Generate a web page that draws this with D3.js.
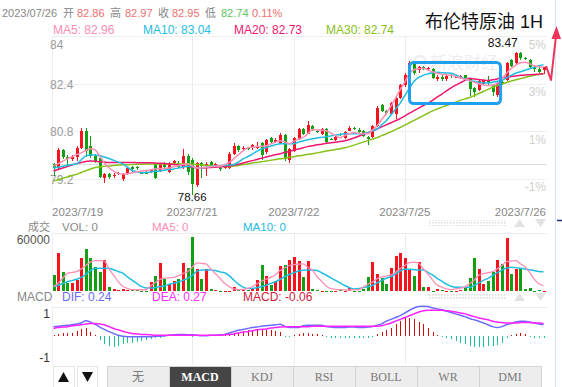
<!DOCTYPE html>
<html>
<head>
<meta charset="utf-8">
<script src="https://cdn.jsdelivr.net/npm/d3@7"></script>
<style>
  body { margin: 0; background: #fff; }
  svg { display: block; }
</style>
</head>
<body>
<svg id="chart" width="562" height="387"></svg>
<script>
// hourly bars
const opens = [79.71,79.58,80.18,79.95,79.88,79.93,80.25,80.82,80.30,79.98,
  79.90,79.24,79.37,79.30,79.38,79.20,79.37,79.60,79.62,79.42,
  79.42,79.45,79.71,79.47,79.74,79.44,79.74,79.74,79.60,79.98,
  79.85,79.00,79.74,79.64,79.76,79.64,79.58,79.58,79.57,80.05,
  80.32,80.22,80.25,80.28,80.25,80.42,80.10,80.59,80.45,80.42,
  80.69,79.84,80.15,80.55,80.89,80.72,80.99,80.82,80.72,80.89,
  80.55,80.52,80.72,80.59,80.82,80.93,80.86,80.82,80.62,80.62,
  80.99,81.67,81.48,81.40,81.40,81.91,82.34,82.68,83.09,82.85,
  82.95,82.90,82.90,82.55,82.62,82.55,82.68,82.62,82.58,82.68,
  82.58,82.24,82.20,82.40,82.51,82.34,82.01,82.45,82.51,83.19,
  83.09,83.43,83.26,83.19,82.95,82.90,82.86];
const highs = [79.74,80.25,80.22,80.02,80.00,80.30,80.90,80.90,80.65,80.05,
  80.00,79.40,79.40,79.40,79.45,79.40,79.60,79.65,79.65,79.45,
  79.46,79.52,79.75,79.75,79.78,79.78,79.84,79.80,80.20,80.05,
  79.90,79.78,79.76,79.76,79.80,79.74,79.62,79.63,80.10,80.40,
  80.35,80.30,80.28,80.38,80.45,80.45,80.55,80.62,80.58,80.75,
  80.72,80.25,80.62,80.92,80.92,81.15,81.02,80.86,80.93,80.93,
  80.58,80.65,80.75,80.82,80.97,80.96,80.90,80.85,80.65,81.03,
  81.65,81.72,81.52,81.80,81.95,82.40,82.75,83.15,83.12,83.00,
  83.00,82.96,82.92,82.70,82.70,82.72,82.72,82.66,82.70,82.70,
  82.60,82.28,82.52,82.55,82.65,82.38,82.45,82.50,83.12,83.22,
  83.47,83.45,83.30,83.22,83.00,82.95,82.97];
const lows = [79.30,79.55,79.88,79.65,79.80,79.80,80.20,79.95,79.90,79.75,
  79.25,79.07,79.22,79.25,79.35,79.15,79.35,79.45,79.50,79.38,
  79.38,79.40,79.20,79.45,79.50,79.40,79.70,79.58,79.55,79.35,
  78.66,78.95,79.24,79.30,79.60,79.60,79.48,79.55,79.55,80.00,
  80.10,80.18,80.18,80.18,80.20,79.85,80.05,80.40,80.42,80.40,
  79.82,79.75,80.10,80.50,80.68,80.70,80.80,80.76,80.68,80.40,
  80.50,80.48,80.66,80.55,80.80,80.86,80.75,80.60,80.35,80.58,
  80.95,81.45,81.35,81.38,81.23,81.88,82.30,82.60,82.70,82.75,
  82.85,82.86,82.55,82.50,82.50,82.50,82.60,82.58,82.55,82.52,
  82.00,81.95,82.15,82.35,82.35,82.00,81.95,82.36,82.48,82.95,
  83.05,83.20,83.18,82.90,82.80,82.75,82.74];
const closes = [79.58,80.18,79.95,79.88,79.93,80.25,80.82,80.15,79.98,79.81,
  79.27,79.37,79.27,79.34,79.42,79.37,79.57,79.55,79.58,79.40,
  79.40,79.50,79.24,79.71,79.60,79.71,79.81,79.62,79.98,79.45,
  79.03,79.74,79.64,79.72,79.66,79.71,79.56,79.60,80.05,80.32,
  80.18,80.25,80.22,80.34,80.32,80.00,80.52,80.45,80.50,80.69,
  79.88,80.22,80.59,80.89,80.72,81.03,80.85,80.79,80.89,80.45,
  80.52,80.62,80.69,80.79,80.93,80.89,80.79,80.65,80.55,80.99,
  81.60,81.50,81.42,81.74,81.91,82.34,82.68,83.09,82.75,82.95,
  82.90,82.92,82.58,82.62,82.55,82.65,82.65,82.62,82.65,82.58,
  82.22,82.11,82.48,82.52,82.41,82.11,82.41,82.40,83.09,82.98,
  83.43,83.26,83.22,82.95,82.88,82.80,82.95];

const ma5 = [79.64,79.72,79.80,79.88,79.95,80.02,80.08,80.16,80.22,80.18,
  79.98,79.74,79.58,79.47,79.40,79.37,79.38,79.41,79.44,79.47,
  79.49,79.51,79.54,79.55,79.56,79.57,79.61,79.65,79.69,79.71,
  79.64,79.57,79.58,79.60,79.62,79.63,79.64,79.68,79.76,79.88,
  80.02,80.15,80.25,80.27,80.29,80.30,80.32,80.38,80.44,80.49,
  80.45,80.39,80.47,80.54,80.59,80.72,80.86,80.85,80.84,80.82,
  80.74,80.66,80.59,80.66,80.72,80.76,80.74,80.73,80.72,80.85,
  80.99,81.20,81.40,81.65,81.92,82.20,82.45,82.75,82.87,82.90,
  82.92,82.86,82.80,82.75,82.72,82.70,82.68,82.64,82.60,82.55,
  82.51,82.45,82.40,82.36,82.34,82.36,82.40,82.55,82.75,82.90,
  83.02,83.10,83.12,83.07,83.00,82.97,82.96];
const ma10 = [79.57,79.60,79.63,79.66,79.69,79.71,79.85,79.98,80.01,80.01,
  79.98,79.94,79.89,79.83,79.77,79.71,79.60,79.49,79.45,79.41,
  79.42,79.44,79.46,79.47,79.50,79.52,79.54,79.57,79.60,79.63,
  79.62,79.58,79.58,79.60,79.62,79.63,79.65,79.66,79.67,79.69,
  79.77,79.88,79.95,80.04,80.13,80.21,80.26,80.31,80.35,80.39,
  80.39,80.39,80.39,80.44,80.48,80.52,80.55,80.58,80.60,80.62,
  80.65,80.67,80.70,80.72,80.72,80.72,80.72,80.72,80.76,80.82,
  80.88,81.02,81.16,81.35,81.55,81.75,82.00,82.25,82.48,82.61,
  82.68,82.73,82.77,82.78,82.77,82.76,82.75,82.69,82.63,82.56,
  82.51,82.48,82.45,82.42,82.42,82.45,82.48,82.51,82.60,82.68,
  82.75,82.80,82.85,82.90,82.95,83.00,83.04];
const ma20 = [79.47,79.52,79.57,79.62,79.67,79.72,79.76,79.79,79.81,79.80,
  79.78,79.77,79.76,79.76,79.76,79.76,79.76,79.76,79.75,79.75,
  79.75,79.75,79.74,79.73,79.72,79.71,79.69,79.67,79.65,79.62,
  79.60,79.58,79.57,79.58,79.59,79.60,79.61,79.62,79.64,79.67,
  79.70,79.74,79.78,79.82,79.86,79.90,79.94,79.98,80.02,80.05,
  80.09,80.13,80.17,80.21,80.25,80.29,80.32,80.35,80.37,80.40,
  80.42,80.44,80.46,80.49,80.53,80.58,80.64,80.70,80.76,80.82,
  80.88,80.95,81.02,81.09,81.16,81.23,81.32,81.41,81.50,81.58,
  81.67,81.75,81.84,81.95,82.05,82.16,82.26,82.35,82.43,82.51,
  82.58,82.56,82.54,82.52,82.51,82.53,82.56,82.60,82.62,82.64,
  82.66,82.68,82.69,82.70,82.71,82.72,82.73];
const ma30 = [79.14,79.18,79.23,79.27,79.32,79.36,79.42,79.48,79.54,79.59,
  79.61,79.63,79.64,79.66,79.67,79.68,79.68,79.69,79.70,79.70,
  79.71,79.71,79.71,79.71,79.71,79.71,79.71,79.71,79.71,79.71,
  79.70,79.69,79.67,79.66,79.65,79.64,79.63,79.62,79.62,79.64,
  79.66,79.69,79.71,79.74,79.76,79.78,79.81,79.83,79.86,79.88,
  79.90,79.93,79.95,79.98,80.00,80.03,80.05,80.08,80.11,80.14,
  80.17,80.19,80.22,80.25,80.29,80.34,80.39,80.44,80.49,80.54,
  80.59,80.66,80.72,80.79,80.86,80.93,81.01,81.09,81.17,81.25,
  81.33,81.41,81.49,81.55,81.61,81.67,81.72,81.78,81.84,81.89,
  81.94,82.00,82.07,82.14,82.21,82.28,82.34,82.39,82.44,82.49,
  82.53,82.57,82.61,82.65,82.68,82.71,82.74];

const volumes = [18800,45000,22700,9800,9400,12900,38800,49400,38800,28200,
  22700,36500,5000,2400,1000,2400,1500,800,600,500,
  500,10600,17600,32900,14100,8200,12100,14100,33300,27400,
  63200,25900,14100,25900,2400,1500,500,500,500,4700,
  1200,600,600,1800,12900,30600,17600,7000,11800,30000,
  30600,37000,40400,35000,16100,35700,2400,1200,400,500,
  300,400,2400,400,3900,400,400,2400,16100,34500,
  20000,15700,8200,26700,41500,45100,39200,24700,17600,34500,
  4300,4300,400,2400,1200,500,500,500,600,4300,
  15700,39200,25900,8200,12200,22000,36500,31800,62700,20000,
  25900,25900,2400,3900,500,1200,400];
const volMa5 = [5000,9000,15000,20800,21800,22700,26000,30000,34000,35700,
  35700,35200,26000,18800,11000,5500,3000,1600,1500,1500,
  1500,6000,10000,13500,15000,15500,16000,18000,20500,22700,
  28000,33000,32500,32000,26000,20500,15000,9000,5200,2500,
  1500,1800,3000,5000,8500,11500,14000,16000,19000,24000,
  27000,30000,31000,31500,31800,28000,24700,17000,11500,6000,
  2800,2000,1500,1300,1200,1300,1500,4500,8000,10500,
  14500,16500,17500,19000,22000,26500,30000,33500,34000,32500,
  26000,20000,13000,7000,4500,2500,1600,2500,3500,4800,
  8500,13000,18500,20500,21500,22700,26000,30000,34500,35200,
  35700,32000,28500,22000,14000,8500,6300];
const volMa10 = [5000,6800,8800,10900,12200,13800,16000,19500,24000,26700,
  26700,26700,26700,25000,23000,21000,16500,12900,9000,5500,
  3500,3500,4200,5000,6000,7800,9000,10500,12500,14900,
  18500,23000,24700,24700,24700,24000,22500,21500,18000,12900,
  8000,4500,2800,3000,4000,5000,6800,9000,10900,13500,
  17000,19500,21500,23500,24500,24700,24700,24000,21500,18500,
  15500,12500,9500,6500,4000,2500,2800,4000,5000,6500,
  9500,12500,15000,17000,20000,23500,25500,25500,25000,24700,
  24700,22000,19000,14900,11500,8000,5500,4300,4300,4300,
  4300,6500,9500,12500,14900,18000,21500,24500,27000,27800,
  27500,26700,26000,25000,24000,23000,22700];

const dif = [0.20,0.21,0.22,0.23,0.24,0.26,0.28,0.33,0.30,0.25,
  0.19,0.14,0.09,0.05,0.01,-0.01,-0.02,-0.02,-0.02,-0.02,
  -0.02,-0.02,-0.01,-0.01,0.00,0.01,0.02,0.03,0.03,0.02,
  0.02,0.01,0.00,0.00,0.01,0.01,0.02,0.03,0.06,0.09,
  0.12,0.14,0.16,0.18,0.19,0.21,0.22,0.23,0.24,0.25,
  0.21,0.18,0.18,0.18,0.22,0.23,0.23,0.23,0.23,0.20,
  0.19,0.18,0.18,0.18,0.19,0.19,0.18,0.18,0.19,0.20,
  0.23,0.26,0.32,0.36,0.40,0.44,0.50,0.56,0.61,0.64,
  0.65,0.64,0.61,0.59,0.57,0.54,0.51,0.48,0.45,0.42,
  0.38,0.35,0.32,0.28,0.24,0.20,0.18,0.20,0.24,0.27,
  0.30,0.32,0.32,0.30,0.28,0.26,0.24];
const dea = [0.16,0.18,0.19,0.20,0.22,0.23,0.24,0.26,0.27,0.27,
  0.26,0.24,0.20,0.16,0.13,0.10,0.07,0.05,0.04,0.03,
  0.03,0.02,0.01,0.01,0.01,0.01,0.01,0.01,0.01,0.01,
  0.01,0.01,0.01,0.01,0.01,0.01,0.01,0.02,0.03,0.04,
  0.06,0.08,0.09,0.11,0.13,0.14,0.15,0.17,0.18,0.19,
  0.20,0.20,0.20,0.20,0.20,0.20,0.21,0.21,0.21,0.21,
  0.21,0.21,0.21,0.21,0.21,0.21,0.21,0.21,0.21,0.21,
  0.21,0.22,0.25,0.28,0.32,0.36,0.40,0.44,0.48,0.52,
  0.55,0.56,0.56,0.56,0.56,0.55,0.54,0.52,0.50,0.48,
  0.45,0.42,0.39,0.37,0.35,0.32,0.30,0.29,0.28,0.28,
  0.28,0.29,0.29,0.29,0.28,0.28,0.27];
const macdBars = [0.02,0.04,0.06,0.06,0.07,0.10,0.14,0.16,0.08,0.02,
  -0.09,-0.18,-0.22,-0.24,-0.22,-0.19,-0.17,-0.15,-0.13,-0.12,
  -0.10,-0.08,-0.06,-0.04,-0.02,-0.01,0.01,0.02,0.03,0.01,
  -0.02,-0.01,0.00,0.00,-0.01,0.00,0.00,0.01,0.02,0.04,
  0.07,0.10,0.12,0.13,0.13,0.13,0.13,0.12,0.11,0.09,
  -0.02,-0.02,0.02,0.04,0.05,0.06,0.04,0.03,0.01,-0.02,
  -0.04,-0.05,-0.04,-0.04,-0.04,-0.05,-0.06,-0.05,-0.04,-0.02,
  0.03,0.09,0.12,0.17,0.25,0.32,0.38,0.38,0.36,0.31,
  0.26,0.16,0.09,0.02,-0.02,-0.05,-0.08,-0.11,-0.15,-0.19,
  -0.22,-0.25,-0.25,-0.24,-0.23,-0.23,-0.20,-0.15,-0.06,0.01,
  0.04,0.05,0.04,-0.02,-0.05,-0.04,-0.06];

// axis / label values
const priceTicks = [84, 82.4, 80.8, 79.2];
const pctTicks = [5, 3, 1, -1];
const pctBase = 79.72;
const dateLabels = ['2023/7/19', '2023/7/21', '2023/7/22', '2023/7/25', '2023/7/26'];
const dateIndex = [0, 30, 52, 76, 106];
const volTicks = [60000];
const macdTickLabels = ['1', '-1'];
const tabNames = ['无', 'MACD', 'KDJ', 'RSI', 'BOLL', 'WR', 'DMI'];
const headerDate = '2023/07/26';
const changePct = 0.11;
const chartTitle = '布伦特原油 1H';

const SANS = '"Liberation Sans", Arial, "Noto Sans CJK SC", sans-serif';
const SERIF = '"Liberation Serif", "Times New Roman", "Noto Sans CJK SC", serif';
const UP = '#f5141e';
const DOWN = '#12a012';
const C_MA5 = '#ff8db4';
const C_MA10 = '#1ebde2';
const C_MA20 = '#f0166f';
const C_MA30 = '#86c11a';

const svg = d3.select('#chart');
const N = closes.length;
const L = 52, R = 547;

const x = d3.scaleLinear().domain([0, N - 1]).range([53.5, 543.5]);
const yPrice = d3.scaleLinear().domain([78.6, 84]).range([197, 36]);
const yVol = d3.scaleLinear().domain([0, 60000]).range([291, 240]);
const yMacd = d3.scaleLinear().domain([-0.62, 0.62]).range([364, 307.5]);

function addText (g, str, px, py, opts = {}) {
  return g.append('text')
    .attr('x', px).attr('y', py)
    .attr('font-family', opts.family || SANS)
    .attr('font-size', opts.size || 12)
    .attr('font-weight', opts.weight || 'normal')
    .attr('fill', opts.color || '#888')
    .attr('text-anchor', opts.anchor || 'start')
    .text(str);
}

function hline (g, y, x1, x2, color) {
  g.append('line').attr('x1', x1).attr('x2', x2)
    .attr('y1', Math.round(y) + 0.5).attr('y2', Math.round(y) + 0.5)
    .attr('stroke', color);
}

function vline (g, xx, y1, y2, color) {
  g.append('line').attr('x1', Math.round(xx) + 0.5).attr('x2', Math.round(xx) + 0.5)
    .attr('y1', y1).attr('y2', y2).attr('stroke', color);
}

drawGrid();
drawHeader();
drawCandles();
drawVolume();
drawMacd();
drawTabs();
drawMarks();

function drawGrid () {
  const g = svg.append('g').attr('shape-rendering', 'crispEdges');
  // price panel
  priceTicks.forEach(v => hline(g, yPrice(v), L, R, '#efefef'));
  hline(g, yPrice(pctBase), L, R, '#dddddd');
  // volume + macd panel tops
  hline(g, 233, L, R, '#ececec');
  hline(g, 307, L, R, '#ececec');
  const panels = [[36, 203], [233, 291], [307, 365]];
  panels.forEach(p => {
    vline(g, L, p[0], p[1], '#eeeeee');
    dateIndex.slice(1, -1).forEach(i => vline(g, x(i), p[0], p[1], '#ececec'));
  });

  // price labels
  priceTicks.forEach(v => {
    const py = Math.max(yPrice(v) + 5, 49);
    addText(g, String(v), 50, py, { color: '#9a9a9a' });
  });
  pctTicks.forEach(p => {
    addText(g, p + '%', 546, yPrice(pctBase * (1 + p / 100)) + 4, { color: '#cfcfcf', anchor: 'end' });
  });
  // dates
  dateLabels.forEach((lab, k) => {
    const last = k === dateLabels.length - 1;
    const anchor = k === 0 ? 'start' : (last ? 'end' : 'middle');
    const px = k === 0 ? L : (last ? 546 : x(dateIndex[k]));
    addText(g, lab, px, 215.5, { size: 11.5, color: '#888', anchor: anchor });
  });

  // watermark
  const wm = svg.append('g').attr('opacity', 0.07);
  wm.append('circle').attr('cx', 420).attr('cy', 62).attr('r', 6).attr('fill', 'none').attr('stroke', '#000').attr('stroke-width', 2);
  addText(wm, '新浪财经', 430, 69, { size: 17, color: '#000' });
}

function drawHeader () {
  const g = svg.append('g');
  const last = N - 1;
  const upRed = '#f06e6e';
  const parts = [
    [headerDate, 2, '#888'],
    ['开', 63, '#888'], [opens[last].toFixed(2), 77, upRed],
    ['高', 110, '#888'], [highs[last].toFixed(2), 125, upRed],
    ['收', 158, '#888'], [closes[last].toFixed(2), 172, upRed],
    ['低', 205, '#888'], [lows[last].toFixed(2), 221, '#5cc65c'],
    [changePct.toFixed(2) + '%', 252, upRed]
  ];
  parts.forEach(p => addText(g, p[0], p[1], 17, { size: 11, color: p[2] }));

  const maRow = [
    ['MA5', ma5, 53, C_MA5], ['MA10', ma10, 143, C_MA10],
    ['MA20', ma20, 234, C_MA20], ['MA30', ma30, 326, C_MA30]
  ];
  maRow.forEach(m => addText(g, `${m[0]}: ${m[1][last].toFixed(2)}`, m[2], 34, { color: m[3] }));

  addText(g, chartTitle, 543, 28, { size: 18, color: '#111', anchor: 'end' });

  // volume header
  addText(g, '成交', 28, 230.5, { size: 11, color: '#888' });
  addText(g, 'VOL: 0', 62, 230.5, { size: 11.5, color: '#888' });
  addText(g, 'MA5: 0', 152, 230.5, { size: 11.5, color: C_MA5 });
  addText(g, 'MA10: 0', 243, 230.5, { size: 11.5, color: C_MA10 });

  // macd header
  addText(g, 'MACD', 17, 301, { color: '#888' });
  addText(g, `DIF: ${dif[last].toFixed(2)}`, 62, 301, { color: '#6a6af5' });
  addText(g, `DEA: ${dea[last].toFixed(2)}`, 152, 301, { color: '#ff2eff' });
  addText(g, `MACD: ${macdBars[last].toFixed(2)}`, 243, 301, { color: '#cc1a3c' });

  // faint scroll controls on the two sub headers
  const defs = svg.append('defs');
  defs.append('pattern').attr('id', 'dots').attr('width', 3).attr('height', 3)
    .attr('patternUnits', 'userSpaceOnUse')
    .append('rect').attr('width', 1.6).attr('height', 1.6).attr('fill', '#dedede');
  [219, 293].forEach(ty => {
    g.append('rect').attr('x', 429).attr('y', ty + 1).attr('width', 78).attr('height', 6).attr('fill', 'url(#dots)');
    g.append('path').attr('d', `M514,${ty + 8}L519.5,${ty}L525,${ty + 8}Z`).attr('fill', '#e2e2e2');
    g.append('path').attr('d', `M535,${ty}L546,${ty}L540.5,${ty + 8}Z`).attr('fill', '#e2e2e2');
  });
}

function drawCandles () {
  const g = svg.append('g').attr('shape-rendering', 'crispEdges');
  const idx = d3.range(N);
  const col = i => closes[i] >= opens[i] ? UP : DOWN;

  g.selectAll('line.wick').data(idx).join('line')
    .attr('class', 'wick')
    .attr('x1', i => Math.round(x(i)) + 0.5).attr('x2', i => Math.round(x(i)) + 0.5)
    .attr('y1', i => yPrice(highs[i])).attr('y2', i => yPrice(lows[i]))
    .attr('stroke', col);

  g.selectAll('rect.body').data(idx).join('rect')
    .attr('class', 'body')
    .attr('x', i => Math.round(x(i)) - 1)
    .attr('width', 3)
    .attr('y', i => yPrice(Math.max(opens[i], closes[i])))
    .attr('height', i => Math.max(1, Math.abs(yPrice(opens[i]) - yPrice(closes[i]))))
    .attr('fill', col);

  const line = d3.line().x((d, i) => x(i)).y(d => yPrice(d)).curve(d3.curveMonotoneX);
  [[ma30, C_MA30], [ma20, C_MA20], [ma10, C_MA10], [ma5, C_MA5]].forEach(m => {
    svg.append('path').attr('d', line(m[0])).attr('fill', 'none')
      .attr('stroke', m[1]).attr('stroke-width', 1.5);
  });

  // max / min labels
  const hi = d3.maxIndex(highs);
  const lo = d3.minIndex(lows);
  addText(svg, highs[hi].toFixed(2), x(hi) + 2, yPrice(highs[hi]) - 5, { color: '#111', anchor: 'end' });
  addText(svg, lows[lo].toFixed(2), x(lo), yPrice(lows[lo]) + 6, { size: 11.5, color: '#111', anchor: 'middle' });
}

function drawVolume () {
  const g = svg.append('g').attr('shape-rendering', 'crispEdges');
  volTicks.forEach(v => addText(g, String(v), 50, yVol(v) + 4, { color: '#555', anchor: 'end' }));
  g.selectAll('rect').data(d3.range(N)).join('rect')
    .attr('x', i => Math.round(x(i)) - 1)
    .attr('width', 3)
    .attr('y', i => yVol(volumes[i]))
    .attr('height', i => Math.max(1, yVol(0) - yVol(volumes[i])))
    .attr('fill', i => closes[i] >= opens[i] ? UP : DOWN);

  const line = d3.line().x((d, i) => x(i)).y(d => yVol(d)).curve(d3.curveMonotoneX);
  svg.append('path').attr('d', line(volMa10)).attr('fill', 'none').attr('stroke', C_MA10).attr('stroke-width', 1.5);
  svg.append('path').attr('d', line(volMa5)).attr('fill', 'none').attr('stroke', C_MA5).attr('stroke-width', 1.3);
}

function drawMacd () {
  const g = svg.append('g').attr('shape-rendering', 'crispEdges');
  addText(g, macdTickLabels[0], 50, 318, { color: '#333', anchor: 'end' });
  addText(g, macdTickLabels[1], 50, 362, { color: '#333', anchor: 'end' });

  g.selectAll('rect').data(d3.range(N)).join('rect')
    .attr('x', i => Math.round(x(i)))
    .attr('width', 1.4)
    .attr('y', i => Math.min(yMacd(0), yMacd(macdBars[i])))
    .attr('height', i => Math.abs(yMacd(macdBars[i]) - yMacd(0)))
    .attr('fill', i => macdBars[i] >= 0 ? '#d10a0a' : '#19c49b');

  const line = d3.line().x((d, i) => x(i)).y(d => yMacd(d)).curve(d3.curveMonotoneX);
  svg.append('path').attr('d', line(dif)).attr('fill', 'none').attr('stroke', '#6b6bff').attr('stroke-width', 1.5);
  svg.append('path').attr('d', line(dea)).attr('fill', 'none').attr('stroke', '#ff22ff').attr('stroke-width', 1.5);
}

function drawTabs () {
  const g = svg.append('g');
  // up / down buttons
  g.append('rect').attr('x', 53.5).attr('y', 366.5).attr('width', 21).attr('height', 21).attr('fill', '#fff').attr('stroke', '#e4e4e4');
  g.append('rect').attr('x', 77.5).attr('y', 366.5).attr('width', 20).attr('height', 21).attr('fill', '#fff').attr('stroke', '#e4e4e4');
  g.append('path').attr('d', 'M58,382L63.5,372L69,382Z').attr('fill', '#111');
  g.append('path').attr('d', 'M82,372L93,372L87.5,382Z').attr('fill', '#111');

  tabNames.forEach((name, i) => {
    const tx = 107 + i * 62;
    const active = name === 'MACD';
    g.append('rect').attr('x', tx + 0.5).attr('y', 366.5).attr('width', 62).attr('height', 22)
      .attr('fill', active ? '#454545' : '#ededed').attr('stroke', '#d4d4d4');
    addText(g, name, tx + 31, 381, {
      family: SERIF, size: 12, anchor: 'middle',
      color: active ? '#fff' : '#7a7a7a', weight: active ? 'bold' : 'normal'
    });
  });
}

function drawMarks () {
  // highlighted consolidation box
  svg.append('rect').attr('x', 409.5).attr('y', 62.5).attr('width', 91).attr('height', 41).attr('rx', 4)
    .attr('fill', 'none').attr('stroke', '#1e9ff0').attr('stroke-width', 3);

  // right edge strip
  svg.append('line').attr('x1', 555.5).attr('x2', 555.5).attr('y1', 0).attr('y2', 387)
    .attr('stroke', '#d3e3f0');
  svg.append('line').attr('x1', 557).attr('x2', 562).attr('y1', 220.5).attr('y2', 220.5)
    .attr('stroke', '#1c2a70').attr('stroke-width', 1.5);

  // hand drawn red arrow
  svg.append('path').attr('d', 'M546,66L551,80L556,36')
    .attr('fill', 'none').attr('stroke', '#f0345c').attr('stroke-width', 2).attr('stroke-linejoin', 'round');
  svg.append('path').attr('d', 'M556.5,26L551.5,39L561,39Z').attr('fill', '#f0345c');
}
</script>
</body>
</html>
